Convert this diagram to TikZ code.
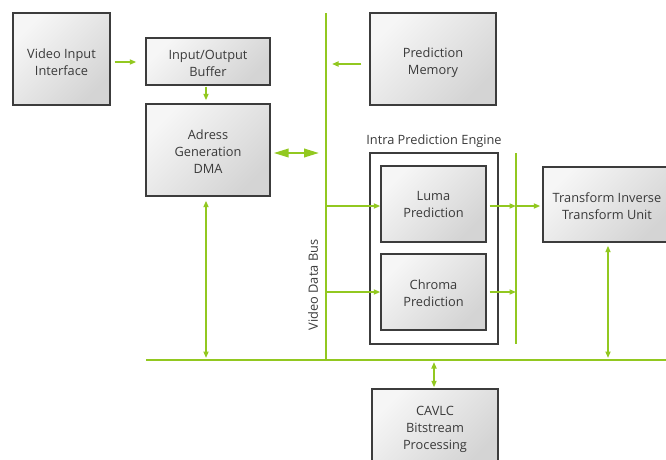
\documentclass[tikz,border=0pt]{standalone}
\usepackage{fontspec}
\setmainfont{Open Sans}
\usetikzlibrary{arrows.meta}
\definecolor{busgreen}{HTML}{92C820}
\definecolor{txt}{HTML}{3A3A3A}
\definecolor{frame}{HTML}{3C3C3C}
\tikzset{
  blk/.style={draw=frame, line width=1.4pt, top color=gray!7, bottom color=gray!34,
    shading angle=45, inner sep=0pt},
  boxtext/.style={inner sep=0pt, align=center, text=txt,
    font=\fontsize{12.8}{17}\selectfont},
  plain/.style={draw=frame, line width=1.3pt, fill=white, inner sep=0pt},
  lbl/.style={text=txt, inner sep=0pt, font=\fontsize{12.8}{17}\selectfont},
  wire/.style={draw=busgreen, line width=1.6pt},
  buswire/.style={draw=busgreen, line width=2pt},
  arr/.style={wire, -{Triangle[length=6.5pt,width=5pt]}},
  darr/.style={wire, {Triangle[length=6.5pt,width=5pt]}-{Triangle[length=6.5pt,width=5pt]}},
  bigarr/.style={draw=busgreen, line width=2.2pt, {Triangle[length=15pt,width=8.5pt]}-{Triangle[length=15pt,width=8.5pt]}},
}
\begin{document}
\begin{tikzpicture}[x=1pt, y=-1pt]
\useasboundingbox (0,0) rectangle (666,459);
\clip (0,0) rectangle (666,459);

% functional blocks
\node[blk, minimum width=97pt,  minimum height=92pt] (vii)  at (61.5,59)  {};
\node[blk, minimum width=124pt, minimum height=47pt] (buf)  at (208,61.5) {};
\node[blk, minimum width=124pt, minimum height=92pt] (dma)  at (208,150)  {};
\node[blk, minimum width=126pt, minimum height=92pt] (pm)   at (433,59)   {};
\node[plain, minimum width=128pt, minimum height=191pt] (eng) at (434,248.5) {};
\node[blk, minimum width=105pt, minimum height=76pt] (luma)   at (433.5,204) {};
\node[blk, minimum width=105pt, minimum height=76pt] (chroma) at (433.5,292) {};
\node[blk, minimum width=128pt, minimum height=75pt] (tr)    at (607,204.5) {};
\node[blk, minimum width=126pt, minimum height=76pt] (cavlc) at (435,427) {};

% block captions
\node[boxtext] (vii-t)    at ([yshift=-3.5pt]vii.center)    {Video Input\\Interface};
\node[boxtext] (buf-t)    at ([yshift=-2pt]buf.center)      {Input/Output\\Buffer};
\node[boxtext] (dma-t)    at ([yshift=-1.5pt]dma.center)    {Adress\\Generation\\DMA};
\node[boxtext] (pm-t)     at ([yshift=-3.5pt]pm.center)     {Prediction\\Memory};
\node[boxtext] (luma-t)   at ([yshift=-0.5pt]luma.center)   {Luma\\Prediction};
\node[boxtext] (chroma-t) at ([yshift=-1pt]chroma.center)   {Chroma\\Prediction};
\node[boxtext] (tr-t)     at ([yshift=-1.5pt]tr.center)     {Transform Inverse\\Transform Unit};
\node[boxtext] (cavlc-t)  at ([yshift=-2pt]cavlc.center)    {CAVLC\\Bitstream\\Processing};
\node[lbl, anchor=south] (englbl) at (434,148) {Intra Prediction Engine};

% bus lines
\coordinate (busT) at (326,13);
\coordinate (busB) at (326,360);
\coordinate (botL) at (146,360);
\coordinate (botR) at (666,360);
\coordinate (rlT) at (516,153);
\coordinate (rlB) at (516,344);
\draw[buswire] (busT) -- (busB);
\draw[buswire] (botL) -- (botR);
\draw[wire] (rlT) -- (rlB);
\node[lbl, rotate=90] (buslbl) at (313,285) {Video Data Bus};

% connectors
\draw[arr] ([xshift=4pt]vii.east |- 0,62) -- ([xshift=-9pt]buf.west |- 0,62);
\draw[arr] ([yshift=-1pt]buf.south -| 206,0) -- ([yshift=3pt]dma.north -| 206,0);
\draw[bigarr] ([xshift=3pt]dma.east |- 0,153) -- ([xshift=-7pt]busT |- 0,153);
\draw[arr] ([xshift=-8pt]pm.west |- 0,64) -- ([xshift=6pt]busT |- 0,64);
\draw[arr] (busT |- 0,206) -- (luma.west |- 0,206);
\draw[arr] (busT |- 0,292) -- (chroma.west |- 0,292);
\draw[arr] ([xshift=3pt]luma.east |- 0,206) -- (rlT |- 0,206);
\draw[arr] (rlT |- 0,206) -- ([xshift=-2pt]tr.west |- 0,206);
\draw[arr] ([xshift=3pt]chroma.east |- 0,292) -- (rlT |- 0,292);
\draw[darr] ([yshift=-3pt]tr.south -| 608,0) -- (608,358);
\draw[darr] ([yshift=-4pt]dma.south -| 206,0) -- (206,358);
\draw[darr] (434,362) -- ([yshift=1pt]cavlc.north -| 434,0);
\end{tikzpicture}
\end{document}
